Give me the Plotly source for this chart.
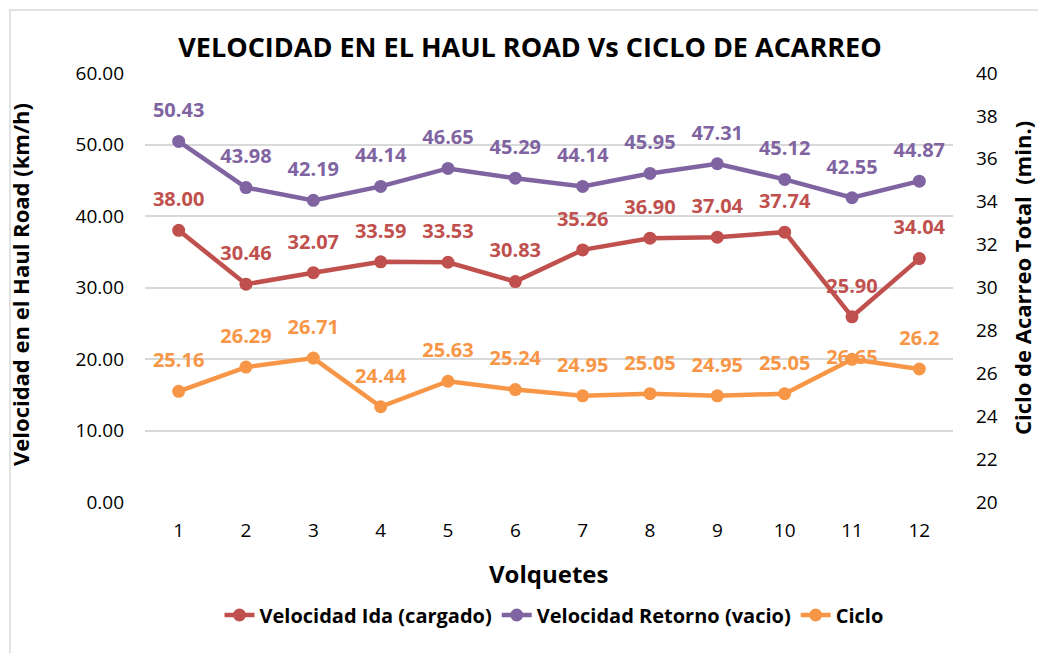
import plotly.graph_objects as go

volquetes = [1, 2, 3, 4, 5, 6, 7, 8, 9, 10, 11, 12]
vel_ida = [38.00, 30.46, 32.07, 33.59, 33.53, 30.83, 35.26, 36.90, 37.04, 37.74, 25.90, 34.04]
vel_retorno = [50.43, 43.98, 42.19, 44.14, 46.65, 45.29, 44.14, 45.95, 47.31, 45.12, 42.55, 44.87]
ciclo = [25.16, 26.29, 26.71, 24.44, 25.63, 25.24, 24.95, 25.05, 24.95, 25.05, 26.65, 26.2]

FONT = "Open Sans"
RED = "#C0504D"
PURPLE = "#8064A2"
ORANGE = "#F79646"

fig = go.Figure()
series = [
    ("Velocidad Ida (cargado)", vel_ida, RED, "y", "%{y:.2f}"),
    ("Velocidad Retorno (vacio)", vel_retorno, PURPLE, "y", "%{y:.2f}"),
    ("Ciclo", ciclo, ORANGE, "y2", "%{y}"),
]
for name, vals, color, yax, tmpl in series:
    fig.add_trace(go.Scatter(
        x=volquetes, y=vals, name=name, mode="lines+markers", yaxis=yax,
        line=dict(color=color, width=4.5), marker=dict(size=13, color=color),
    ))
for name, vals, color, yax, tmpl in series:
    pos = ["top center"] * len(vals)
    if name == "Ciclo":
        pos[10] = "middle center"
    fig.add_trace(go.Scatter(
        x=volquetes, y=vals, mode="markers+text", yaxis=yax, showlegend=False,
        hoverinfo="skip", marker=dict(size=29, color="rgba(0,0,0,0)"),
        texttemplate=tmpl, textposition=pos,
        textfont=dict(color=color, size=20, family=FONT, weight="bold"),
    ))

fig.update_layout(
    width=1038, height=653,
    paper_bgcolor="white", plot_bgcolor="white",
    font=dict(family=FONT, color="#000000", size=19),
    margin=dict(l=145, r=85, t=73, b=151),
    title=dict(text="<b>VELOCIDAD EN EL HAUL ROAD Vs CICLO DE ACARREO</b>",
               x=(530 - 145) / 808, xanchor="center", xref="paper", y=1 - 48 / 653, yanchor="middle",
               font=dict(size=27, family=FONT, color="#000000")),
    xaxis=dict(
        range=[0.5, 12.5], tickmode="array", tickvals=volquetes,
        showgrid=False, zeroline=False, showline=False, ticks="",
        tickfont=dict(size=19), ticklabelstandoff=15,
    ),
    yaxis=dict(
        range=[0, 60], dtick=10, tickformat=".2f",
        showgrid=True, gridcolor="#D9D9D9", gridwidth=1.5,
        zeroline=False, showline=False, ticks="",
        tickfont=dict(size=19), ticklabelstandoff=20,
    ),
    yaxis2=dict(
        range=[20, 40], dtick=2, overlaying="y", side="right",
        showgrid=False, zeroline=False, showline=False, ticks="",
        tickfont=dict(size=19), ticklabelstandoff=22,
    ),
    legend=dict(orientation="h", x=(554 - 145) / 808, xanchor="center", y=(502 - 615) / 429,
                yanchor="middle", font=dict(size=20, weight="bold"), traceorder="normal"),
    showlegend=True,
    annotations=[
        dict(text="<b>Volquetes</b>", xref="paper", yref="paper", x=(549 - 145) / 808,
             y=(502 - 573) / 429, xanchor="center", yanchor="middle", showarrow=False,
             font=dict(size=24)),
        dict(text="<b>Velocidad en el Haul Road (km/h)</b>", xref="paper", yref="paper",
             x=(20 - 145) / 808, y=(502 - 285) / 429, textangle=-90, xanchor="center",
             yanchor="middle", showarrow=False, font=dict(size=22)),
        dict(text="<b>Ciclo de Acarreo Total&nbsp;&nbsp;(min.)</b>", xref="paper", yref="paper",
             x=(1022 - 145) / 808, y=(502 - 278) / 429, textangle=-90, xanchor="center",
             yanchor="middle", showarrow=False, font=dict(size=22)),
    ],
    shapes=[dict(type="rect", xref="paper", yref="paper", x0=(10 - 145) / 808, x1=1.3,
                 y0=-0.6, y1=(502 - 10) / 429,
                 line=dict(color="#D9D9D9", width=1.5), fillcolor="rgba(0,0,0,0)")],
)

fig.write_html("out.html", config={"displayModeBar": False},
               post_script="document.body.style.margin='0';document.body.style.overflow='hidden';")
